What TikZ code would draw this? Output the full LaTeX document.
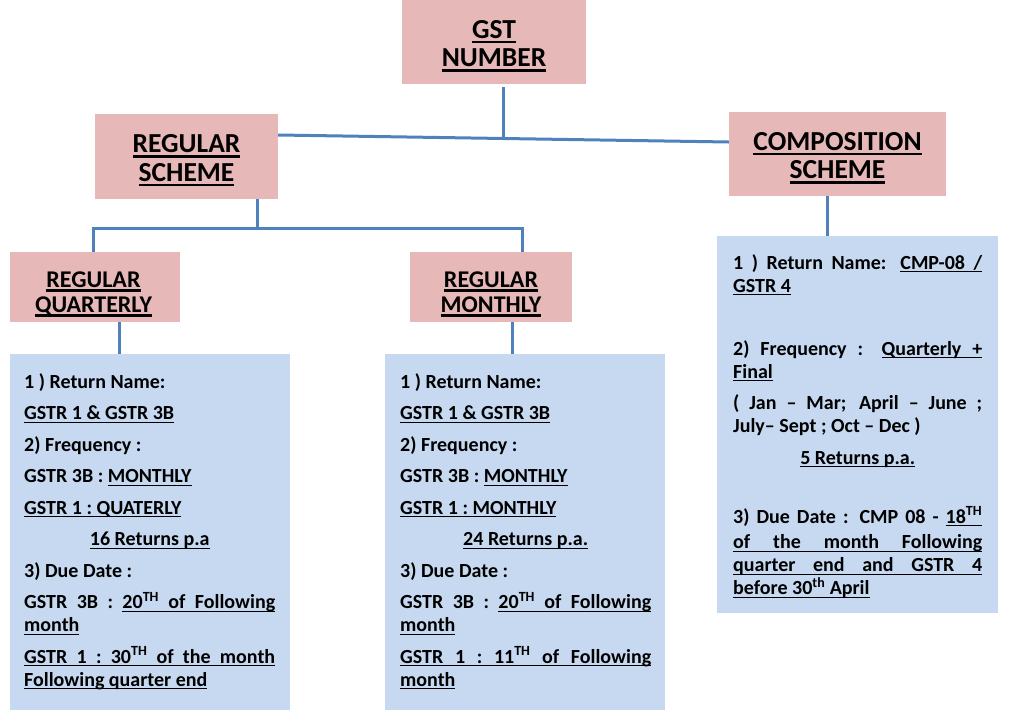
\documentclass[tikz,border=0pt]{standalone}
\usepackage{fontspec}
\setmainfont{Carlito}
\usetikzlibrary{positioning}

\definecolor{headpink}{HTML}{E6B8B7}
\definecolor{bodyblue}{HTML}{C6D9F1}
\definecolor{linkblue}{HTML}{4F81BD}

% underline word by word, spaces underlined with stretchable leaders
\makeatletter
\def\ulht{-2pt}\def\uldp{3.4pt}
\def\ulword#1{\leavevmode\setbox\z@\hbox{#1}\rlap{\vrule height\ulht depth\uldp width\wd\z@}\box\z@}
\def\ulspace{\leaders\hrule height\ulht depth\uldp\hskip\fontdimen2\font plus\fontdimen3\font minus\fontdimen4\font}
\def\ul#1{\ul@a#1 \@nil}
\def\ul@a#1 #2\@nil{\ulword{#1}\ifx\relax#2\relax\else\ulspace\ul@a#2\@nil\fi}
\makeatother

\newcommand\headfont{\bfseries\fontsize{27.5}{28.5}\selectfont\def\ulht{-2.5pt}\def\uldp{5pt}}
\newcommand\subheadfont{\bfseries\fontsize{24}{25}\selectfont\def\ulht{-2.3pt}\def\uldp{4.5pt}}
\newcommand\bodyfont{\bfseries\fontsize{20}{23}\selectfont\setlength\parskip{8.5pt}\setlength\parindent{0pt}\hyphenpenalty=10000 \exhyphenpenalty=10000 \tolerance=10000 }

\begin{document}
\begin{tikzpicture}[x=1pt, y=-1pt,
  headbox/.style={fill=headpink, inner sep=0pt},
  headlabel/.style={inner sep=0pt, align=center, font=\headfont},
  sublabel/.style={headlabel, font=\subheadfont},
  bodybox/.style={fill=bodyblue, inner sep=0pt, anchor=north west},
  bodytext/.style={anchor=north west, inner sep=0pt, text width=251pt, align=justify, font=\bodyfont},
  link/.style={draw=linkblue, line width=3pt}]
  \useasboundingbox (0,0) rectangle (1024,709);

  % scheme boxes
  \node[headbox, minimum width=184pt, minimum height=84pt] (gst) at (494,42) {};
  \node[headbox, minimum width=183pt, minimum height=85pt] (rs) at (186.5,156.5) {};
  \node[headbox, minimum width=217pt, minimum height=84pt] (cs) at (837.5,154) {};
  \node[headbox, minimum width=170pt, minimum height=70pt] (rq) at (95,287) {};
  \node[headbox, minimum width=162pt, minimum height=70pt] (rm) at (491,287) {};
  \node[headlabel] (gstlbl) at ([yshift=-4pt]gst.center) {\ul{GST}\\\ul{NUMBER}};
  \node[headlabel] (rslbl) at ([yshift=-4pt]rs.center) {\ul{REGULAR}\\\ul{SCHEME}};
  \node[headlabel] (cslbl) at ([yshift=-4pt]cs.center) {\ul{COMPOSITION}\\\ul{SCHEME}};
  \node[sublabel] (rqlbl) at ([xshift=-1.5pt,yshift=-7pt]rq.center) {\ul{REGULAR}\\\ul{QUARTERLY}};
  \node[sublabel] (rmlbl) at ([yshift=-7pt]rm.center) {\ul{REGULAR}\\\ul{MONTHLY}};

  % detail boxes
  \node[bodybox, minimum width=280pt, minimum height=362pt] (qbody) at (10,354) {};
  \node[bodybox, minimum width=280pt, minimum height=362pt] (mbody) at (385,354) {};
  \node[bodybox, minimum width=281pt, minimum height=377pt] (cbody) at (717,236) {};

  \node[bodytext] (qtext) at (24,373) {%
    1 ) Return Name:\par
    \ul{GSTR 1 \& GSTR 3B}\par
    2) Frequency :\par
    GSTR 3B : \ul{MONTHLY}\par
    \ul{GSTR 1 : QUATERLY}\par
    {\centering\ul{16 Returns p.a}\par}
    3) Due Date :\par
    GSTR 3B : \ul{{20\textsuperscript{TH}} of Following}\linebreak\ul{month}\par
    \ul{GSTR 1 : {30\textsuperscript{TH}} of the month}\linebreak\ul{Following quarter end}\par};

  \node[bodytext] (mtext) at (400,373) {%
    1 ) Return Name:\par
    \ul{GSTR 1 \& GSTR 3B}\par
    2) Frequency :\par
    GSTR 3B : \ul{MONTHLY}\par
    \ul{GSTR 1 : MONTHLY}\par
    {\centering\ul{24 Returns p.a.}\par}
    3) Due Date :\par
    GSTR 3B : \ul{{20\textsuperscript{TH}} of Following}\linebreak\ul{month}\par
    \ul{GSTR 1 : {11\textsuperscript{TH}} of Following}\linebreak\ul{month}\par};

  \node[bodytext, text width=249pt] (ctext) at (733,254) {%
    1 ) Return Name: \ul{CMP-08 /}\linebreak\ul{GSTR 4}\par
    \vspace*{31.5pt}
    2) Frequency : \ul{Quarterly +}\linebreak\ul{Final}\par
    ( Jan – Mar; April – June ;\linebreak July– Sept ; Oct – Dec )\par
    {\centering\ul{5 Returns p.a.}\par}
    \vspace*{27.5pt}
    3) Due Date : CMP 08 - \ul{{18\textsuperscript{TH}}}\linebreak\rule{0pt}{21.5pt}\ul{of the month Following}\linebreak\ul{quarter end and GSTR 4}\linebreak\ul{before {30\textsuperscript{th}} April}\par};

  % connectors
  \coordinate (hub) at (503,138.5);
  \coordinate (rsfork) at (257,228);
  \coordinate (qdrop) at (93,0);
  \coordinate (mdrop) at (522,0);
  \coordinate (qlink) at (119,0);
  \coordinate (mlink) at (512,0);
  \coordinate (clink) at (827,0);
  \draw[link] ([yshift=21.5pt]rs.east) -- ([yshift=12pt]cs.west);
  \draw[link] ([yshift=-3pt]gst.south -| hub) -- (hub);
  \draw[link] (rs.south -| rsfork) -- (rsfork);
  \draw[link] (rq.north -| qdrop) |- (rsfork) -| (rm.north -| mdrop);
  \draw[link] (rq.south -| qlink) -- (qbody.north -| qlink);
  \draw[link] (rm.south -| mlink) -- (mbody.north -| mlink);
  \draw[link] (cs.south -| clink) -- (cbody.north -| clink);
\end{tikzpicture}
\end{document}
